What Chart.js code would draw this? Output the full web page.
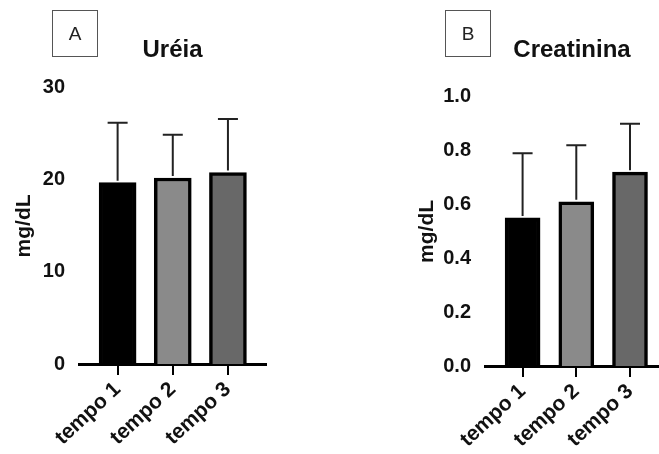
<!DOCTYPE html>
<html>
<head>
<meta charset="utf-8">
<script src="https://cdn.jsdelivr.net/npm/chart.js@4"></script>
<style>
    body { margin: 0; background: #fff; }
    #wrap { position: relative; width: 659px; height: 454px; overflow: hidden; }
    .panel { position: absolute; top: 0; height: 454px; }
    .tag {
        position: absolute; top: 10px; width: 44px; height: 45px;
        border: 1.5px solid #555; font: 19px "Liberation Sans", Arial, sans-serif;
        color: #222; text-align: center; line-height: 45px;
    }
</style>
</head>
<body>
<div id="wrap">
    <div class="panel" style="left:0;width:330px"><canvas id="ureiaChart"></canvas></div>
    <div class="panel" style="left:330px;width:329px"><canvas id="creatChart"></canvas></div>
    <div class="tag" style="left:52px">A</div>
    <div class="tag" style="left:445px">B</div>
</div>
<script>
const categories = ['tempo 1', 'tempo 2', 'tempo 3'];
const ureiaMean = [19.7, 20.2, 20.8];
const ureiaSD = [6.5, 4.7, 5.8];
const ureiaTicks = [0, 10, 20, 30];
const creatMean = [0.55, 0.61, 0.72];
const creatSD = [0.24, 0.21, 0.18];
const creatTicks = [0, 0.2, 0.4, 0.6, 0.8, 1.0];
const barColors = ['#000000', '#8a8a8a', '#686868'];

const FONT = '"Liberation Sans", Arial, sans-serif';

// upper error bar only, like the original figure
const errorBars = {
    id: 'errorBars',
    afterDatasetsDraw(chart, args, opts) {
        const ctx = chart.ctx;
        const meta = chart.getDatasetMeta(0);
        const y = chart.scales.y;
        ctx.save();
        ctx.strokeStyle = '#222';
        ctx.lineWidth = 2;
        meta.data.forEach((bar, i) => {
            const top = y.getPixelForValue(opts.mean[i] + opts.sd[i]);
            ctx.beginPath();
            ctx.moveTo(bar.x, bar.y - 2);
            ctx.lineTo(bar.x, top);
            ctx.moveTo(bar.x - opts.cap / 2, top);
            ctx.lineTo(bar.x + opts.cap / 2, top);
            ctx.stroke();
        });
        ctx.restore();
    }
};

function createChart(id, cfg) {
    const ctx = document.getElementById(id).getContext('2d');
    return new Chart(ctx, {
        type: 'bar',
        data: {
            datasets: [{
                data: cfg.mean.map((v, i) => ({ x: i + 1, y: v })),
                backgroundColor: barColors,
                borderColor: '#000',
                borderWidth: 3.5,
                barThickness: cfg.barWidth
            }]
        },
        plugins: [errorBars],
        options: {
            responsive: true,
            maintainAspectRatio: false,
            animation: false,
            layout: { padding: { left: cfg.padLeft, right: cfg.padRight, top: 0, bottom: 0 } },
            plugins: {
                legend: { display: false },
                tooltip: { enabled: false },
                title: {
                    display: true,
                    text: cfg.title,
                    fullSize: false,
                    color: '#111',
                    font: { family: FONT, size: 24, weight: 'bold' },
                    padding: { top: 36, bottom: cfg.titleGap }
                },
                errorBars: { mean: cfg.mean, sd: cfg.sd, cap: 20 }
            },
            scales: {
                x: {
                    type: 'linear',
                    offset: false,
                    min: 0.3,
                    max: cfg.xMax,
                    afterBuildTicks: (scale) => {
                        scale.ticks = categories.map((c, i) => ({ value: i + 1 }));
                    },
                    afterFit: (scale) => { scale.height = cfg.xHeight; },
                    grid: { display: true, offset: false, drawOnChartArea: false, drawTicks: true, tickLength: 11, color: '#000', lineWidth: 2 },
                    border: { display: true, color: '#000', width: 3 },
                    ticks: {
                        autoSkip: false,
                        minRotation: 43,
                        maxRotation: 43,
                        padding: 2,
                        color: '#111',
                        font: { family: FONT, size: 21, weight: 'bold' },
                        callback: (v) => categories[v - 1]
                    }
                },
                y: {
                    min: 0,
                    max: cfg.ticks[cfg.ticks.length - 1],
                    afterBuildTicks: (scale) => {
                        scale.ticks = cfg.ticks.map(v => ({ value: v }));
                    },
                    afterFit: (scale) => { scale.width = cfg.yWidth; },
                    grid: { display: false },
                    border: { display: false },
                    title: {
                        display: true,
                        text: 'mg/dL',
                        color: '#111',
                        font: { family: FONT, size: 21, weight: 'bold' },
                        padding: { top: 12, bottom: 0 }
                    },
                    ticks: {
                        padding: 6,
                        color: '#111',
                        font: { family: FONT, size: 20, weight: 'bold' },
                        callback: cfg.fmt
                    }
                }
            }
        }
    });
}

document.addEventListener('DOMContentLoaded', function () {
    createChart('ureiaChart', {
        title: 'Uréia', mean: ureiaMean, sd: ureiaSD, ticks: ureiaTicks,
        barWidth: 37, padLeft: 0, padRight: 64, yWidth: 79, xMax: 3.69, xHeight: 90, titleGap: 23,
        fmt: (v) => String(v)
    });
    createChart('creatChart', {
        title: 'Creatinina', mean: creatMean, sd: creatSD, ticks: creatTicks,
        barWidth: 35, padLeft: 73, padRight: 0, yWidth: 82, xMax: 3.54, xHeight: 88, titleGap: 32,
        fmt: (v) => v.toFixed(1)
    });
});
</script>
</body>
</html>
